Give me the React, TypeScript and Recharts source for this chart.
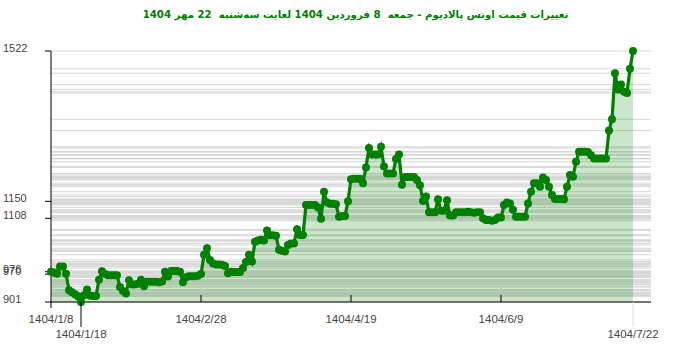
import { ComposedChart, Area, XAxis, YAxis, CartesianGrid } from "recharts";

// palladium ounce price, one value per trading day
const prices = [
  976, 974, 971, 989, 989, 971, 930, 925, 920, 915,
  901, 918, 932, 917, 916, 916, 956, 977, 970, 967,
  967, 967, 967, 938, 928, 922, 955, 944, 944, 946,
  956, 940, 951, 951, 951, 951, 950, 952, 976, 964,
  978, 978, 978, 976, 950, 962, 965, 965, 965, 966,
  970, 1018, 1034, 1005, 996, 994, 994, 993, 990, 972,
  976, 975, 975, 975, 985, 1000, 1018, 1001, 1050, 1053,
  1055, 1053, 1078, 1066, 1066, 1065, 1030, 1028, 1026, 1042,
  1046, 1046, 1081, 1067, 1067, 1141, 1141, 1141, 1141, 1135,
  1107, 1174, 1147, 1144, 1144, 1143, 1112, 1114, 1114, 1150,
  1205, 1206, 1206, 1206, 1195, 1234, 1282, 1266, 1266, 1266,
  1285, 1236, 1219, 1219, 1219, 1255, 1266, 1191, 1210, 1210,
  1210, 1210, 1203, 1190, 1151, 1162, 1123, 1123, 1123, 1155,
  1127, 1127, 1153, 1115, 1115, 1123, 1123, 1123, 1123, 1124, 1123,
  1122, 1123, 1123, 1108, 1104, 1104, 1102, 1104, 1110, 1110,
  1141, 1147, 1145, 1129, 1112, 1112, 1112, 1112, 1145, 1174,
  1195, 1195, 1186, 1209, 1203, 1186, 1166, 1156, 1156, 1156,
  1155, 1186, 1215, 1211, 1248, 1273, 1273, 1273, 1272, 1264,
  1256, 1256, 1256, 1256, 1256, 1325, 1353, 1467, 1427, 1439,
  1421, 1418, 1478, 1522,
];

const tickIndexes = [0, 10, 50, 100, 150, 194];
const tickDates = ["1404/1/8", "1404/1/18", "1404/2/28", "1404/4/19", "1404/6/9", "1404/7/22"];
const lowerRow = [10, 194];
const yTicks = [901, 970, 976, 1108, 1150, 1522];

const title =
  "تغییرات قیمت اونس پالادیوم - جمعه  8 فروردین 1404 لغایت سه‌شنبه  22 مهر 1404";

const data = prices.map((v, i) => ({ i, v }));
const gridValues = Array.from(new Set(prices));

const labelFont = "'Liberation Sans', Arial, sans-serif";

function XTick({ x, y, payload }: any) {
  const idx = payload.value;
  const label = tickDates[tickIndexes.indexOf(idx)];
  const lower = lowerRow.includes(idx);
  let tickLine;
  if (lower) {
    tickLine = (
      <line x1={x} y1={y} x2={x} y2={y + 25} stroke={idx === 194 ? "#dddddd" : "#000"} />
    );
  } else if (idx === 0) {
    tickLine = <line x1={x} y1={y} x2={x} y2={y + 6} stroke="#000" />;
  } else {
    tickLine = <line x1={x} y1={y - 7} x2={x} y2={y} stroke="#000" />;
  }
  return (
    <g>
      {tickLine}
      <text
        x={x}
        y={lower ? y + 36 : y + 21}
        textAnchor="middle"
        fontSize={11.5}
        fill="#444"
        fontFamily={labelFont}
      >
        {label}
      </text>
    </g>
  );
}

function YTick({ y, payload }: any) {
  return (
    <text x={3} y={y + 1} fontSize={11} fill="#444" fontFamily={labelFont}>
      {payload.value}
    </text>
  );
}

export default function App() {
  return (
    <div style={{ position: "absolute", left: 0, top: 0, width: 700, height: 352, background: "#fff" }}>
      <div
        style={{
          position: "absolute",
          left: 0,
          top: 7,
          width: 711,
          textAlign: "center",
          direction: "rtl",
          fontFamily: "'DejaVu Sans', Tahoma, sans-serif",
          fontWeight: "bold",
          fontSize: 10.2,
          lineHeight: "16px",
          color: "#008000",
          whiteSpace: "pre",
        }}
      >
        {title}
      </div>
      <ComposedChart
        width={700}
        height={352}
        data={data}
        margin={{ top: 51, right: 49, bottom: 0, left: 0 }}
      >
        <CartesianGrid vertical={false} horizontalValues={gridValues} stroke="#d6d6d6" />
        <XAxis
          dataKey="i"
          type="number"
          domain={[0, 200]}
          ticks={tickIndexes}
          tick={<XTick />}
          tickLine={false}
          tickSize={0}
          tickMargin={0}
          height={50}
          axisLine={{ stroke: "#000" }}
          interval={0}
        />
        <YAxis
          type="number"
          domain={[901, 1522]}
          ticks={yTicks}
          tick={<YTick />}
          tickSize={6}
          tickLine={{ stroke: "#000" }}
          axisLine={{ stroke: "#000" }}
          width={51}
          interval={0}
        />
        <Area
          type="linear"
          dataKey="v"
          stroke="#008000"
          strokeWidth={3.2}
          fill="#008000"
          fillOpacity={0.2}
          dot={{ r: 4, fill: "#008000", fillOpacity: 1, stroke: "#008000", strokeWidth: 0 }}
          activeDot={false}
          isAnimationActive={false}
        />
      </ComposedChart>
    </div>
  );
}
